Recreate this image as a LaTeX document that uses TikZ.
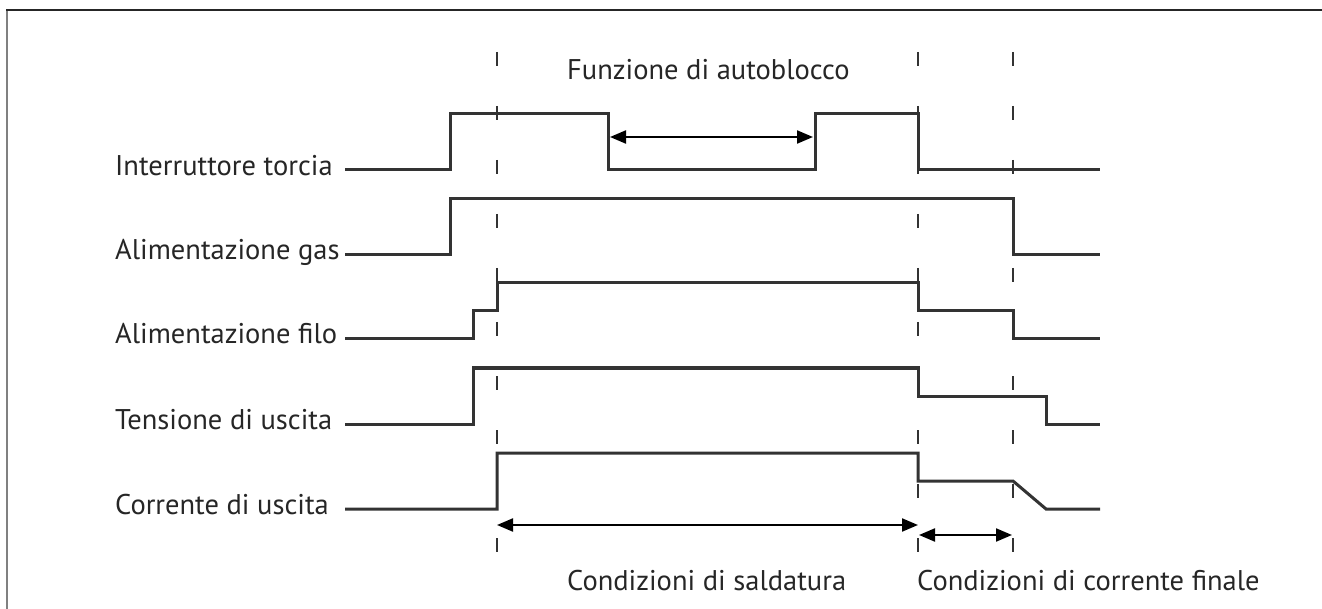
\documentclass[tikz,border=0pt]{standalone}
\usepackage{fontspec}
\setmainfont{PT Sans}
\usetikzlibrary{arrows.meta}
\begin{document}
\begin{tikzpicture}[x=1pt,y=-1pt,
  sig/.style={line width=3pt,draw=black!80,line join=miter},
  dsh/.style={line width=2pt,draw=black!80,dash pattern=on 14pt off 40pt},
  dim/.style={line width=2.2pt,draw=black,{Triangle[length=16pt,width=13pt]}-{Triangle[length=16pt,width=13pt]}},
  lbl/.style={font=\fontsize{28.5}{32}\selectfont,text=black!85,inner sep=0pt,anchor=base west}]
\useasboundingbox (0,0) rectangle (1322,609);
% frame
\draw[line width=2pt,draw=black!50] (7,10) -- (7,609);
\draw[line width=2pt,draw=black!85] (6,10) -- (1322,10);
% labels
\node[lbl] (l1) at (115,176) {Interruttore torcia};
\node[lbl] (l2) at (115,260) {Alimentazione gas};
\node[lbl] (l3) at (115,344) {Alimentazione filo};
\node[lbl] (l4) at (115,429) {Tensione di uscita};
\node[lbl] (l5) at (115,514) {Corrente di uscita};
\node[lbl] (t1) at (567,80) {Funzione di autoblocco};
\node[lbl] (t2) at (567,590) {Condizioni di saldatura};
\node[lbl] (t3) at (917,590) {Condizioni di corrente finale};
% dashed time markers
\draw[dsh] (497,52) -- (497,552);
\draw[dsh] (918,52) -- (918,552);
\draw[dsh] (1013,52) -- (1013,552);
% waveforms
\draw[sig] (345,170) -- (450,170) -- (450,114) -- (608,114) -- (608,170) -- (815,170) -- (815,114) -- (918,114) -- (918,170) -- (1100,170);
\draw[sig] (345,255) -- (450,255) -- (450,199) -- (1013,199) -- (1013,255) -- (1100,255);
\draw[sig] (345,339) -- (473,339) -- (473,311) -- (497,311) -- (497,283) -- (918,283) -- (918,311) -- (1013,311) -- (1013,339) -- (1100,339);
\draw[sig] (345,424) -- (473,424) -- (473,368) -- (918,368) -- (918,396) -- (1046,396) -- (1046,424) -- (1100,424);
\draw[sig] (345,509) -- (497,509) -- (497,453) -- (918,453) -- (918,481) -- (1013,481) -- (1046,509) -- (1100,509);
% dimension arrows
\coordinate (a1) at (610,137);
\coordinate (a2) at (813,137);
\draw[dim] (a1) -- (a2);
\coordinate (b1) at (497,525);
\coordinate (b2) at (918,525);
\draw[dim] (b1) -- (b2);
\coordinate (c1) at (919,535);
\coordinate (c2) at (1012,535);
\draw[dim] (c1) -- (c2);
\end{tikzpicture}
\end{document}
